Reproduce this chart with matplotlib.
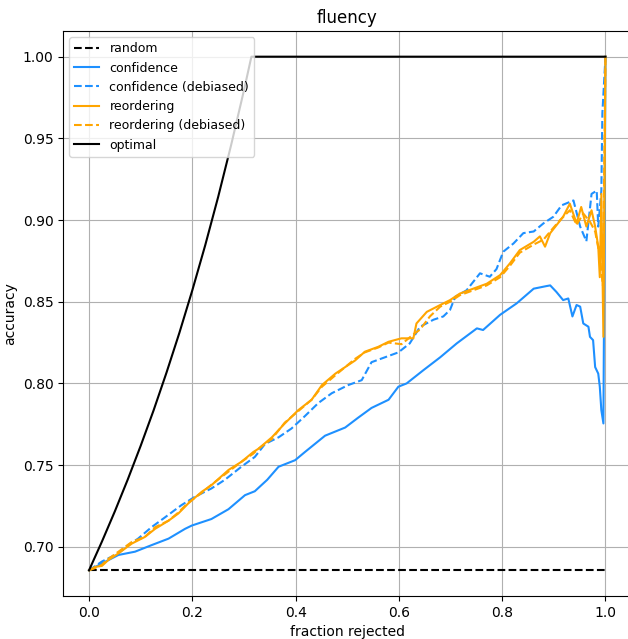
import numpy as np
import matplotlib
matplotlib.use("Agg")
import matplotlib.pyplot as plt

# ===========================
# DATA
# ===========================
BASE_ACC = 0.6856

random_x = [0.0, 1.0]
random_y = [BASE_ACC, BASE_ACC]

conf_x = [0.0, 0.031, 0.057, 0.089, 0.121, 0.154, 0.186, 0.199, 0.237, 0.270,
          0.302, 0.321, 0.345, 0.367, 0.399, 0.418, 0.457, 0.496, 0.521, 0.547, 0.580,
          0.599, 0.615, 0.647, 0.680, 0.712, 0.751, 0.763, 0.796, 0.828, 0.861,
          0.886, 0.893, 0.905, 0.918, 0.928, 0.936, 0.944, 0.951, 0.957, 0.967,
          0.970, 0.976, 0.980, 0.986, 0.989, 0.992, 0.996, 1.0]
conf_y = [0.6856, 0.6908, 0.695, 0.697, 0.701, 0.705, 0.711, 0.713, 0.717, 0.723,
          0.7316, 0.734, 0.741, 0.749, 0.753, 0.758, 0.768, 0.773, 0.779, 0.785, 0.790,
          0.798, 0.800, 0.808, 0.816, 0.8245, 0.8337, 0.8327, 0.842, 0.849, 0.858,
          0.8596, 0.860, 0.856, 0.851, 0.852, 0.841, 0.848, 0.847, 0.8367, 0.8347,
          0.8285, 0.8265, 0.810, 0.806, 0.798, 0.7836, 0.7755, 1.0]

confd_x = [0.0, 0.025, 0.057, 0.076, 0.095, 0.121, 0.147, 0.179, 0.205, 0.237,
           0.263, 0.295, 0.321, 0.341, 0.367, 0.392, 0.418, 0.444, 0.470, 0.502,
           0.528, 0.547, 0.573, 0.599, 0.621, 0.641, 0.667, 0.686, 0.699, 0.709,
           0.731, 0.757, 0.776, 0.789, 0.802, 0.822, 0.841, 0.861, 0.880, 0.899,
           0.915, 0.938, 0.951, 0.963, 0.973, 0.983, 0.986, 0.992, 0.994, 1.0]
confd_y = [0.6856, 0.691, 0.696, 0.701, 0.705, 0.712, 0.718, 0.7255, 0.7306, 0.7357,
           0.741, 0.749, 0.755, 0.763, 0.767, 0.7724, 0.780, 0.788, 0.794, 0.799,
           0.802, 0.813, 0.816, 0.819, 0.8245, 0.8347, 0.839, 0.841, 0.845, 0.853,
           0.857, 0.8674, 0.8653, 0.870, 0.8806, 0.8857, 0.892, 0.893, 0.898, 0.902,
           0.909, 0.912, 0.896, 0.887, 0.916, 0.918, 0.896, 0.918, 0.9655, 1.0]

reord_x = [0.0, 0.012, 0.025, 0.037, 0.057, 0.083, 0.108, 0.128, 0.154, 0.173,
           0.192, 0.218, 0.237, 0.270, 0.295, 0.318, 0.328, 0.354, 0.379, 0.405,
           0.431, 0.451, 0.477, 0.496, 0.515, 0.534, 0.560, 0.580, 0.605, 0.628,
           0.634, 0.654, 0.680, 0.699, 0.718, 0.744, 0.770, 0.796, 0.815, 0.834,
           0.861, 0.873, 0.883, 0.893, 0.918, 0.931, 0.944, 0.953, 0.963, 0.973,
           0.980, 0.986, 0.989, 0.992, 0.996, 1.0]
reord_y = [0.6856, 0.6877, 0.6883, 0.6918, 0.696, 0.702, 0.706, 0.711, 0.716, 0.7204,
           0.7265, 0.7336, 0.7377, 0.747, 0.752, 0.758, 0.760, 0.767, 0.7755, 0.7836,
           0.790, 0.799, 0.806, 0.810, 0.814, 0.8194, 0.8224, 0.8255, 0.8276, 0.8276,
           0.8367, 0.8438, 0.848, 0.851, 0.855, 0.858, 0.861, 0.8663, 0.8735, 0.8816,
           0.8867, 0.890, 0.8837, 0.892, 0.902, 0.910, 0.898, 0.908, 0.896, 0.906,
           0.896, 0.8837, 0.865, 0.916, 0.8285, 1.0]

reordd_x = [0.0, 0.012, 0.025, 0.037, 0.057, 0.083, 0.108, 0.128, 0.154, 0.173,
            0.192, 0.218, 0.237, 0.270, 0.295, 0.318, 0.328, 0.354, 0.379, 0.405,
            0.431, 0.451, 0.477, 0.496, 0.515, 0.534, 0.560, 0.580, 0.605, 0.628,
            0.641, 0.660, 0.680, 0.699, 0.718, 0.744, 0.770, 0.796, 0.815, 0.834,
            0.861, 0.880, 0.893, 0.912, 0.931, 0.944, 0.957, 0.970, 0.980, 0.989,
            0.995, 1.0]
reordd_y = [0.6856, 0.6870, 0.6890, 0.6925, 0.697, 0.703, 0.706, 0.712, 0.716, 0.7210,
            0.7270, 0.7330, 0.7380, 0.746, 0.752, 0.757, 0.760, 0.766, 0.7760, 0.7830,
            0.790, 0.798, 0.805, 0.810, 0.815, 0.8190, 0.8220, 0.8250, 0.8240, 0.8300,
            0.8330, 0.8410, 0.847, 0.850, 0.854, 0.857, 0.860, 0.8650, 0.8720, 0.8800,
            0.8850, 0.888, 0.893, 0.900, 0.906, 0.897, 0.904, 0.899, 0.893, 0.878,
            0.860, 1.0]

optimal_x = [0.0, 0.025, 0.05, 0.075, 0.10, 0.125, 0.15, 0.175, 0.20, 0.225,
             0.25, 0.275, 0.30, 0.3144, 1.0]
optimal_y = [0.6856, 0.7032, 0.7217, 0.7412, 0.7618, 0.7835, 0.8066, 0.8310, 0.857, 0.8846,
             0.9141, 0.9457, 0.9794, 1.0, 1.0]

BLUE = "#1e90ff"
ORANGE = "#ffa500"

# ===========================
# PLOT
# ===========================
fig = plt.figure(figsize=(6.28, 6.39), dpi=100)
ax = fig.add_axes([63.2 / 628, 43 / 639, 568.1 / 628, 565 / 639])

ax.plot(random_x, random_y, "k--", label="random")
ax.plot(conf_x, conf_y, color=BLUE, label="confidence")
ax.plot(confd_x, confd_y, color=BLUE, linestyle="--", label="confidence (debiased)")
ax.plot(reord_x, reord_y, color=ORANGE, label="reordering")
ax.plot(reordd_x, reordd_y, color=ORANGE, linestyle="--", label="reordering (debiased)")
ax.plot(optimal_x, optimal_y, color="black", label="optimal")

ax.set_title("fluency")
ax.set_xlabel("fraction rejected")
ax.set_ylabel("accuracy")
ax.grid(True)
ax.legend(loc="upper left", fontsize=9)

fig.savefig("out.png", dpi=100)
